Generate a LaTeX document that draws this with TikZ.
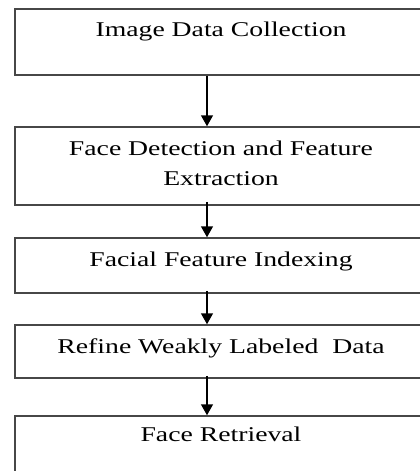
\documentclass[tikz,border=0pt]{standalone}
\usepackage{fontspec}
\setmainfont{Liberation Serif}[FakeStretch=1.32]
\usetikzlibrary{arrows.meta}
\begin{document}
\begin{tikzpicture}[x=1pt,y=-1pt,
  stagebox/.style={draw=black!72, line width=1.5pt, rectangle, minimum width=412pt, inner sep=0pt},
  stagetext/.style={anchor=base, inner sep=0pt, align=center, font=\fontsize{21}{30}\selectfont},
  flowarrow/.style={draw=black, line width=1.5pt, -{Triangle[width=12pt,length=11pt]}}]
\useasboundingbox (0,0) rectangle (420,471);
\clip (0,0) rectangle (420,471);
\fill[white] (0,0) rectangle (420,471);
\node[stagebox, minimum height=66pt] (b1) at (221,42) {};
\node[stagebox, minimum height=78pt] (b2) at (221,166) {};
\node[stagebox, minimum height=55pt] (b3) at (221,265.5) {};
\node[stagebox, minimum height=53pt] (b4) at (221,351.5) {};
\node[stagebox, minimum height=74pt] (b5) at (221,453) {};
\node[stagetext] (t1) at (221,36) {Image Data Collection};
\node[stagetext] (t2) at (221,185) {Face Detection and Feature\\Extraction};
\node[stagetext] (t3) at (221,266) {Facial Feature Indexing};
\node[stagetext] (t4) at (221,353) {Refine Weakly Labeled\ \ Data};
\node[stagetext] (t5) at (221,441) {Face Retrieval};
\coordinate (ax) at (207,0);
\draw[flowarrow] (b1.south -| ax) -- (b2.north -| ax);
\draw[flowarrow, shorten <=-4pt] (b2.south -| ax) -- (b3.north -| ax);
\draw[flowarrow, shorten <=-3pt] (b3.south -| ax) -- (b4.north -| ax);
\draw[flowarrow, shorten <=-3pt] (b4.south -| ax) -- (b5.north -| ax);
\end{tikzpicture}
\end{document}
